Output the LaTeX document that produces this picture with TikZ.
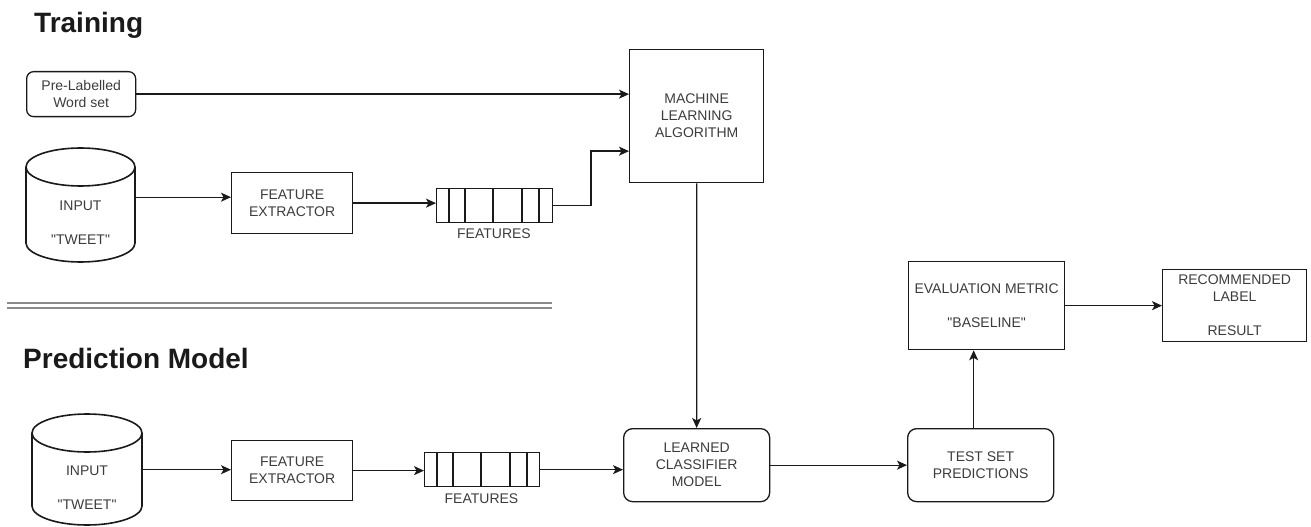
\documentclass[tikz,border=0pt]{standalone}
\usepackage{fontspec}
\setmainfont{Liberation Sans}
\newfontfamily\plainq{Liberation Sans}
\usetikzlibrary{arrows.meta}
\definecolor{txt}{HTML}{3C3C3C}
\definecolor{ln}{HTML}{1A1A1A}
\definecolor{sepc}{HTML}{8A8A8A}
\begin{document}
\begin{tikzpicture}[x=1bp,y=-1bp,
  font=\fontsize{14bp}{17bp}\selectfont,
  box/.style={draw=ln, line width=1.3bp, text=txt, align=center, inner sep=0pt, anchor=north west},
  rbox/.style={box, rounded corners=9bp},
  lbl/.style={text=txt, inner sep=0pt, align=center},
  cylpath/.style={draw=ln, line width=1.6bp, fill=white},
  divider/.style={draw=ln, line width=1.3bp},
  arr/.style={draw=ln, line width=1.3bp, -{Stealth[length=10bp,width=9bp,inset=2.5bp]}},
  titlefont/.style={font=\fontsize{28bp}{32bp}\selectfont\bfseries, text=ln, inner sep=0pt, anchor=base west},
  sepline/.style={draw=sepc, line width=2bp}
]
\useasboundingbox (0,0) rectangle (1311,527);

% titles
\node[titlefont] (ttrain) at (34,33) {Training};
\node[titlefont] (tpred) at (23,368) {Prediction Model};

% separator
\draw[sepline] (7,303) -- (552,303);
\draw[sepline] (7,307.5) -- (552,307.5);

% ---------- Training ----------
\node[rbox, rounded corners=7bp, minimum width=109bp, minimum height=45bp] (pre) at (26,71) {Pre-Labelled\\Word set};

% cylinder 1
\node[inner sep=0pt, minimum width=109bp, minimum height=114bp, anchor=north west] (cyl1) at (26,148) {};
\draw[cylpath] (26,167) -- (26,243) arc[start angle=180, end angle=0, x radius=54.5, y radius=19] -- (135,167);
\draw[cylpath] (80.5,167) ellipse[x radius=54.5, y radius=19];
\node[lbl] (in1) at (80.5,223) {INPUT\\[17bp]{\plainq"TWEET"}};

\node[box, minimum width=121bp, minimum height=61bp] (fe1) at (231,172) {FEATURE\\EXTRACTOR};

\node[box, minimum width=116bp, minimum height=34bp] (ft1) at (436,188) {};
\foreach \x in {449,465,493,522,539} \draw[divider] (\x,188) -- (\x,222);
\node[lbl] (ftl1) at (494,234) {FEATURES};

\node[box, minimum width=134bp, minimum height=133bp] (mla) at (629,49) {MACHINE\\LEARNING\\ALGORITHM};

% ---------- Prediction ----------
\node[inner sep=0pt, minimum width=110bp, minimum height=111bp, anchor=north west] (cyl2) at (32,414) {};
\draw[cylpath] (32,433) -- (32,506) arc[start angle=180, end angle=0, x radius=55, y radius=19] -- (142,433);
\draw[cylpath] (87,433) ellipse[x radius=55, y radius=19];
\node[lbl] (in2) at (87,488) {INPUT\\[17bp]{\plainq"TWEET"}};

\node[box, minimum width=121bp, minimum height=60bp] (fe2) at (231,440) {FEATURE\\EXTRACTOR};

\node[box, minimum width=115bp, minimum height=34bp] (ft2) at (424,452) {};
\foreach \x in {437,453,481,510,527} \draw[divider] (\x,452) -- (\x,486);
\node[lbl] (ftl2) at (481.5,499) {FEATURES};

\node[rbox, minimum width=146bp, minimum height=73bp] (lcm) at (623,428) {LEARNED\\CLASSIFIER\\MODEL};
\node[rbox, minimum width=146bp, minimum height=73bp] (test) at (907,428) {TEST SET\\PREDICTIONS};
\node[box, minimum width=156bp, minimum height=88bp] (eval) at (908,261) {EVALUATION METRIC\\[17bp]{\plainq"BASELINE"}};
\node[box, minimum width=144bp, minimum height=72bp] (rec) at (1162,269) {RECOMMENDED\\LABEL\\[17bp]RESULT};

% ---------- connectors ----------
\draw[arr] (pre.east) -- (pre.east -| mla.west);
\coordinate (c1) at ([yshift=8bp]cyl1.east);
\draw[arr] (c1) -- (c1 -| fe1.west);
\draw[arr] (fe1.east) -- (fe1.east -| ft1.west);
\coordinate (bend) at ([yshift=-35bp]mla.west);
\draw[arr] (ft1.east) -| ([xshift=-38bp]bend) -- (bend);
\draw[arr] (mla.south) -- (lcm.north);

\draw[arr] (cyl2.east) -- (cyl2.east -| fe2.west);
\draw[arr] (fe2.east) -- (fe2.east -| ft2.west);
\draw[arr] (ft2.east) -- (ft2.east -| lcm.west);
\draw[arr] (lcm.east) -- (lcm.east -| test.west);
\coordinate (tu) at ([xshift=-7bp]test.north);
\draw[arr] (tu) -- (tu |- eval.south);
\draw[arr] (eval.east) -- (eval.east -| rec.west);
\end{tikzpicture}
\end{document}
